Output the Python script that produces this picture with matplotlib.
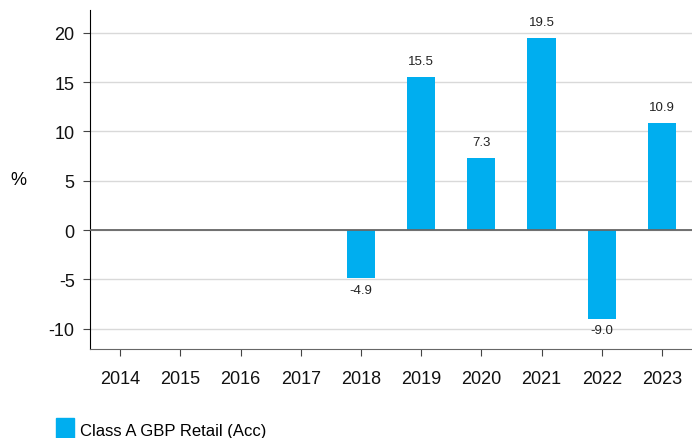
import matplotlib.pyplot as plt
import numpy as np

plt.rcParams['font.family'] = ['Liberation Sans', 'DejaVu Sans']
plt.rcParams['axes.unicode_minus'] = False

years = ['2014', '2015', '2016', '2017', '2018', '2019', '2020', '2021', '2022', '2023']
returns = [np.nan, np.nan, np.nan, np.nan, -4.9, 15.5, 7.3, 19.5, -9.0, 10.9]
series_name = 'Class A GBP Retail (Acc)'
bar_color = '#00AEEF'

fig = plt.figure(figsize=(6.92, 4.39), dpi=100)
ax = fig.add_axes([90 / 692, 1 - 350 / 439, 602 / 692, 339 / 439])

x = np.arange(len(years))
vals = np.array(returns, dtype=float)
ax.bar(x, np.nan_to_num(vals), width=0.47, color=bar_color, zorder=3)

# value labels
for xi, v in zip(x, vals):
    if np.isnan(v):
        continue
    if v >= 0:
        ax.annotate(f'{v:.1f}', (xi, v), xytext=(0, 7), textcoords='offset points',
                    ha='center', va='bottom', fontsize=9.5, color='#222222')
    else:
        ax.annotate(f'{v:.1f}', (xi, v), xytext=(0, -4), textcoords='offset points',
                    ha='center', va='top', fontsize=9.5, color='#222222')

ax.set_xlim(-0.5, 9.5)
ax.set_ylim(-12.05, 22.3)
ax.set_yticks([-10, -5, 0, 5, 10, 15, 20])
ax.set_xticks(x)
ax.set_xticklabels(years)

ax.yaxis.grid(True, color='#d9d9d9', linewidth=1, zorder=0)
ax.axhline(0, color='#666666', linewidth=1.3, zorder=4)

for s in ['top', 'right']:
    ax.spines[s].set_visible(False)
ax.spines['left'].set_color('black')
ax.spines['bottom'].set_color('#666666')

ax.tick_params(axis='y', length=5, width=0.8, color='#444444', labelsize=13, pad=6)
ax.tick_params(axis='x', length=5, width=0.8, color='#444444', labelsize=13, pad=10)
ax.tick_params(labelcolor='#111111', which='both')

fig.text(18 / 692, 1 - 181 / 439, '%', fontsize=13, ha='center', va='center')

# legend
fig.patches.append(plt.Rectangle((56 / 692, 0), 18 / 692, 20 / 439,
                                 transform=fig.transFigure, color=bar_color))
fig.text(80 / 692, 1 - 432 / 439, series_name, fontsize=12, ha='left', va='center')

fig.savefig('out.png', dpi=100)
